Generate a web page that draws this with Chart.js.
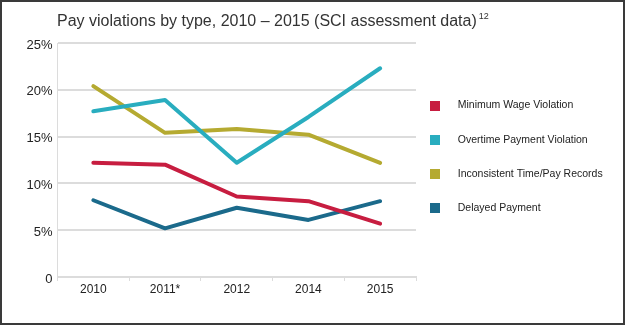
<!DOCTYPE html>
<html>
<head>
<meta charset="utf-8">
<script src="https://cdn.jsdelivr.net/npm/chart.js@4/dist/chart.umd.min.js"></script>
<style>
  html, body { margin: 0; padding: 0; background: #fff; }
  #frame { position: relative; width: 625px; height: 325px; box-sizing: border-box; border: 2px solid #3a3a3a; background: #fff; }
  #title { position: absolute; left: 55px; top: 9px; font-family: "Liberation Sans", Arial, sans-serif; font-size: 16px; line-height: 20px; color: #333; white-space: nowrap; }
  #title sup { font-size: 9px; vertical-align: 7px; line-height: 0; margin-left: 2px; }
  #wrap { position: absolute; left: 0; top: 0; width: 621px; height: 321px; }
</style>
</head>
<body>
<div id="frame">
  <div id="wrap"><canvas id="c"></canvas></div>
  <div id="title">Pay violations by type, 2010 – 2015 (SCI assessment data)<sup>12</sup></div>
</div>
<script>
const categories = ["2010", "2011*", "2012", "2014", "2015"];
const seriesNames = ["Minimum Wage Violation", "Overtime Payment Violation", "Inconsistent Time/Pay Records", "Delayed Payment"];
const minimumWage = [12.2, 12.0, 8.6, 8.1, 5.7];
const overtimePayment = [17.7, 18.9, 12.2, 17.1, 22.3];
const inconsistentRecords = [20.4, 15.4, 15.8, 15.2, 12.2];
const delayedPayment = [8.2, 5.2, 7.4, 6.1, 8.1];
const seriesColors = ["#c71d40", "#29adbf", "#b5aa31", "#1b6a8b"];
const yTicks = [0, 5, 10, 15, 20, 25];

function squareIcon(color) {
  const cv = document.createElement('canvas');
  cv.width = 10; cv.height = 10;
  const g = cv.getContext('2d');
  g.fillStyle = color; g.fillRect(0, 0, 10, 10);
  return cv;
}

const seriesData = [minimumWage, overtimePayment, inconsistentRecords, delayedPayment];
const datasets = seriesNames.map((name, i) => ({
  label: name,
  data: seriesData[i],
  borderColor: seriesColors[i],
  backgroundColor: seriesColors[i],
  borderWidth: 4,
  tension: 0,
  pointRadius: 0,
  pointHoverRadius: 0,
  pointStyle: squareIcon(seriesColors[i]),
  borderCapStyle: 'round',
  borderJoinStyle: 'round',
  fill: false
}));

const legendNudge = {
  id: 'legendNudge',
  afterLayout(chart) {
    const lg = chart.legend;
    if (!lg) return;
    lg.left = chart.chartArea.right + 1 - lg.options.labels.padding;
    lg.top -= 26; lg.bottom -= 26;
  }
};

new Chart(document.getElementById('c'), {
  type: 'line',
  data: { labels: categories, datasets },
  plugins: [legendNudge],
  options: {
    responsive: true,
    maintainAspectRatio: false,
    animation: false,
    events: [],
    layout: { padding: { top: 41, left: 0, right: 0, bottom: 0 } },
    plugins: {
      title: { display: false },
      tooltip: { enabled: false },
      legend: {
        display: true,
        position: 'right',
        align: 'center',
        maxWidth: 207,
        labels: {
          usePointStyle: true,
          pointStyleWidth: 35.5,
          padding: 23.8,
          color: '#222',
          font: { family: "'Liberation Sans', Arial, sans-serif", size: 10.5 }
        }
      }
    },
    scales: {
      x: {
        offset: true,
        afterFit(s) { s.height = 46; },
        grid: { offset: true, drawOnChartArea: false, drawTicks: true, tickLength: 4, color: '#dcdcdc', lineWidth: 1 },
        border: { display: true, color: '#dcdcdc', width: 2 },
        ticks: { color: '#222', padding: 1, font: { family: "'Liberation Sans', Arial, sans-serif", size: 12 } }
      },
      y: {
        min: 0, max: 25,
        afterFit(s) { s.width = 55.5; },
        afterBuildTicks(s) { s.ticks = yTicks.map(v => ({ value: v })); },
        grid: { color: '#dcdcdc', lineWidth: 2, drawTicks: false },
        border: { display: true, color: '#dcdcdc', width: 1 },
        ticks: {
          color: '#222', padding: 5, labelOffset: 2,
          font: { family: "'Liberation Sans', Arial, sans-serif", size: 13 },
          callback: v => v === 0 ? '0' : v + '%'
        }
      }
    }
  }
});
</script>
</body>
</html>
